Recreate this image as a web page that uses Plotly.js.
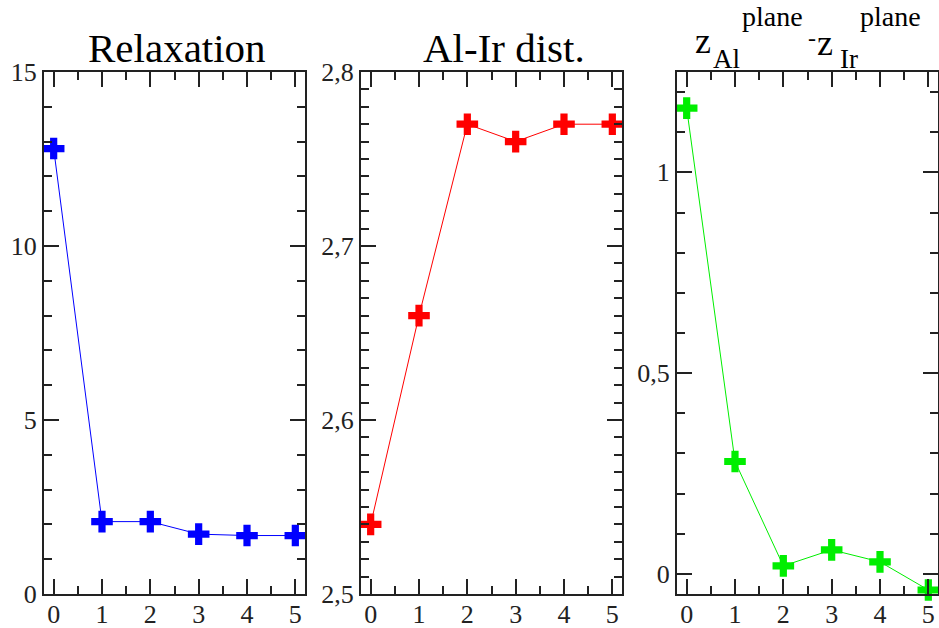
<!DOCTYPE html>
<html>
<head>
<meta charset="utf-8">
<script src="https://cdn.plot.ly/plotly-3.0.1.min.js"></script>
<style>html,body{margin:0;padding:0;background:#fff;}#chart{width:939px;height:628px;}</style>
</head>
<body>
<div id="chart"></div>
<script>
// ---- data ----
const steps = [0, 1, 2, 3, 4, 5];
const relaxation = [12.8, 2.08, 2.08, 1.72, 1.68, 1.68];
const alIrDist = [2.54, 2.66, 2.77, 2.76, 2.77, 2.77];
const zDiff = [1.16, 0.28, 0.02, 0.06, 0.03, -0.04];
const titles = ["Relaxation", "Al-Ir dist."];
const xTickVals = [0, 1, 2, 3, 4, 5];

const W = 939, H = 628;
const px = v => v / W;
const py = v => 1 - v / H;

const FONT = "Liberation Serif";
const AX = "#222";

function trace(y, color, xa, ya) {
  return {
    x: steps, y: y, xaxis: xa, yaxis: ya, type: "scatter", mode: "lines+markers",
    line: {color: color, width: 1},
    marker: {symbol: "cross", size: 18, color: color, line: {width: 0}},
    cliponaxis: false, showlegend: false, hoverinfo: "skip"
  };
}

function xax(dom, anchor) {
  return {
    domain: dom, anchor: anchor, range: [-0.2, 5.2], tickvals: xTickVals,
    ticks: "inside", ticklen: 15, tickwidth: 2, tickcolor: AX,
    minor: {dtick: 0.5, tick0: 0, ticks: "inside", ticklen: 8, tickwidth: 2, tickcolor: AX},
    showline: true, linewidth: 2, linecolor: AX, mirror: "ticks",
    showgrid: false, zeroline: false, ticklabelstandoff: -4,
    tickfont: {family: FONT, size: 26, color: AX}
  };
}
function yax(dom, anchor, range, dtick, minorDtick, fmt) {
  const o = {
    domain: dom, anchor: anchor, range: range, dtick: dtick, tick0: 0,
    ticks: "inside", ticklen: 15, tickwidth: 2, tickcolor: AX,
    minor: {dtick: minorDtick, tick0: 0, ticks: "inside", ticklen: 8, tickwidth: 2, tickcolor: AX},
    showline: true, linewidth: 2, linecolor: AX, mirror: "ticks",
    showgrid: false, zeroline: false,
    tickfont: {family: FONT, size: 26, color: AX}
  };
  if (fmt) o.tickformat = fmt;
  return o;
}

const yDom = [py(594), py(72)];

const data = [
  trace(relaxation, "#0000ff", "x", "y"),
  trace(alIrDist, "#ff0000", "x2", "y2"),
  trace(zDiff, "#00ee00", "x3", "y3")
];

function ann(text, xLeft, baseline, size, anchor) {
  return {
    text: text, xref: "paper", yref: "paper", showarrow: false,
    x: px(xLeft), xanchor: anchor || "left",
    y: py(baseline - 0.34 * size), yanchor: "middle",
    font: {family: FONT, size: size, color: "#000"}
  };
}

const layout = {
  width: W, height: H,
  margin: {l: 0, r: 0, t: 0, b: 0},
  paper_bgcolor: "#fff", plot_bgcolor: "#fff",
  separators: ",.",
  font: {family: FONT},
  xaxis: xax([px(44), px(305)], "y"),
  yaxis: yax(yDom, "x", [0, 15], 5, 1),
  xaxis2: xax([px(361), px(622)], "y2"),
  yaxis2: yax(yDom, "x2", [2.5, 2.8], 0.1, 0.01, ".1f"),
  xaxis3: xax([px(677), px(938)], "y3"),
  yaxis3: yax(yDom, "x3", [-0.05, 1.25], 0.5, 0.1),
  annotations: [
    ann(titles[0], 177, 62, 41, "center"),
    ann(titles[1], 504, 62, 41, "center"),
    ann("z", 693, 53, 36),
    ann("Al", 711, 68, 27),
    ann("plane", 740, 26, 28),
    ann("-", 806, 46, 24),
    ann("z", 815, 55, 36),
    ann("Ir", 838, 68, 27),
    ann("plane", 858, 26, 28)
  ]
};

Plotly.newPlot("chart", data, layout, {staticPlot: true, displayModeBar: false});
</script>
</body>
</html>
